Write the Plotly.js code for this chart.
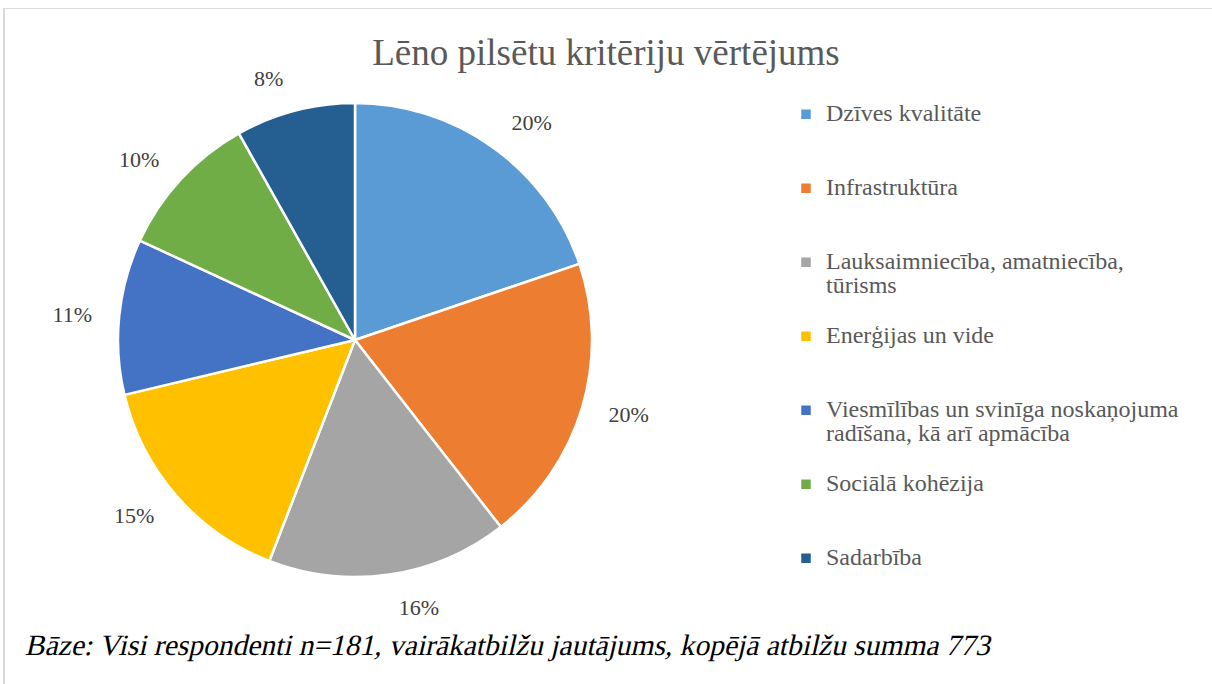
<!DOCTYPE html>
<html>
<head>
<meta charset="utf-8">
<script src="https://cdn.plot.ly/plotly-3.0.1.min.js"></script>
<style>
  html, body { margin: 0; padding: 0; background: #fff; }
  #wrap { position: relative; width: 1212px; height: 684px; overflow: hidden; }
  #frame { position: absolute; left: 3px; top: 8px; width: 1220px; height: 700px;
           border-top: 1px solid #d9d9d9; border-left: 2px solid #d9d9d9; pointer-events: none; }
  #chart { position: absolute; left: 0; top: 0; width: 1212px; height: 684px; }
</style>
</head>
<body>
<div id="wrap">
  <div id="chart"></div>
  <div id="frame"></div>
</div>
<script>
// Data (answer counts; total 773 answers)
const categories = [
  "Dzīves kvalitāte",
  "Infrastruktūra",
  "Lauksaimniecība, amatniecība,<br>tūrisms",
  "Enerģijas un vide",
  "Viesmīlības un svinīga noskaņojuma<br>radīšana, kā arī apmācība",
  "Sociālā kohēzija",
  "Sadarbība"
];
const answerCounts = [153, 152, 127, 119, 82, 77, 63];
const sliceColors = ["#5b9bd5", "#ed7d31", "#a5a5a5", "#ffc000", "#4472c4", "#70ad47", "#255e91"];
const chartTitle = "Lēno pilsētu kritēriju vērtējums";
const footnote = "Bāze: Visi respondenti n=181, vairākatbilžu jautājums, kopējā atbilžu summa 773";

const SERIF = "Liberation Serif";

// legend labels: visible text at 24px, padded to 3 lines of the (smaller) base legend font
// so that every entry takes the same height, as in the original
const legendLabels = categories.map(c => {
  const parts = c.split("<br>");
  let s = parts.map(p => '<span style="font-size:24px">' + p + '</span>').join("<br>");
  for (let i = parts.length; i < 3; i++) s += "<br> ";
  return s;
});

const W = 1212, H = 684;
const cx = 355, cy = 340, R = 237, RL = 258;

function dom(r) {
  return { x: [(cx - r) / W, (cx + r) / W], y: [(H - cy - r) / H, (H - cy + r) / H] };
}

const pie = {
  type: "pie",
  labels: legendLabels,
  values: answerCounts,
  sort: false,
  direction: "clockwise",
  rotation: 0,
  marker: { colors: sliceColors, line: { color: "#ffffff", width: 2.5 } },
  textinfo: "none",
  hoverinfo: "label+value+percent",
  domain: dom(R),
  automargin: false
};

// transparent twin, slightly larger, only to carry the outside percentage labels
const labelsPie = {
  type: "pie",
  labels: legendLabels,
  values: answerCounts,
  sort: false,
  direction: "clockwise",
  rotation: 0,
  marker: { colors: sliceColors.map(() => "rgba(0,0,0,0)"), line: { width: 0 } },
  textposition: "outside",
  texttemplate: "%{percent:.0%}",
  textfont: { family: SERIF, size: 22, color: "#404040" },
  showlegend: false,
  hoverinfo: "skip",
  domain: dom(RL),
  automargin: false
};

const layout = {
  width: W, height: H,
  margin: { l: 0, r: 0, t: 0, b: 0 },
  paper_bgcolor: "#ffffff",
  showlegend: true,
  title: {
    text: chartTitle,
    font: { family: SERIF, size: 37, color: "#595959" },
    x: 0.5, xanchor: "center", y: 1 - 52 / H, yanchor: "middle"
  },
  legend: {
    x: 786 / W, xanchor: "left", y: 1 - 96 / H, yanchor: "top",
    valign: "top",
    font: { family: SERIF, size: 18.2, color: "#595959" },
    traceorder: "normal"
  },
  annotations: [{
    text: footnote,
    xref: "paper", yref: "paper", x: 25 / W, y: 1 - 645 / H,
    xanchor: "left", yanchor: "middle", showarrow: false,
    font: { family: SERIF, size: 29.5, color: "#000000" }
  }]
};

Plotly.newPlot("chart", [pie, labelsPie], layout, { displayModeBar: false, staticPlot: true }).then(gd => {
  // the serif italic face is not installed: slant the regular serif face instead
  gd.querySelectorAll(".annotation-text").forEach(t => {
    t.style.transformBox = "fill-box";
    t.style.transformOrigin = "center";
    t.style.transform = "skewX(-13deg)";
  });
});
</script>
</body>
</html>
